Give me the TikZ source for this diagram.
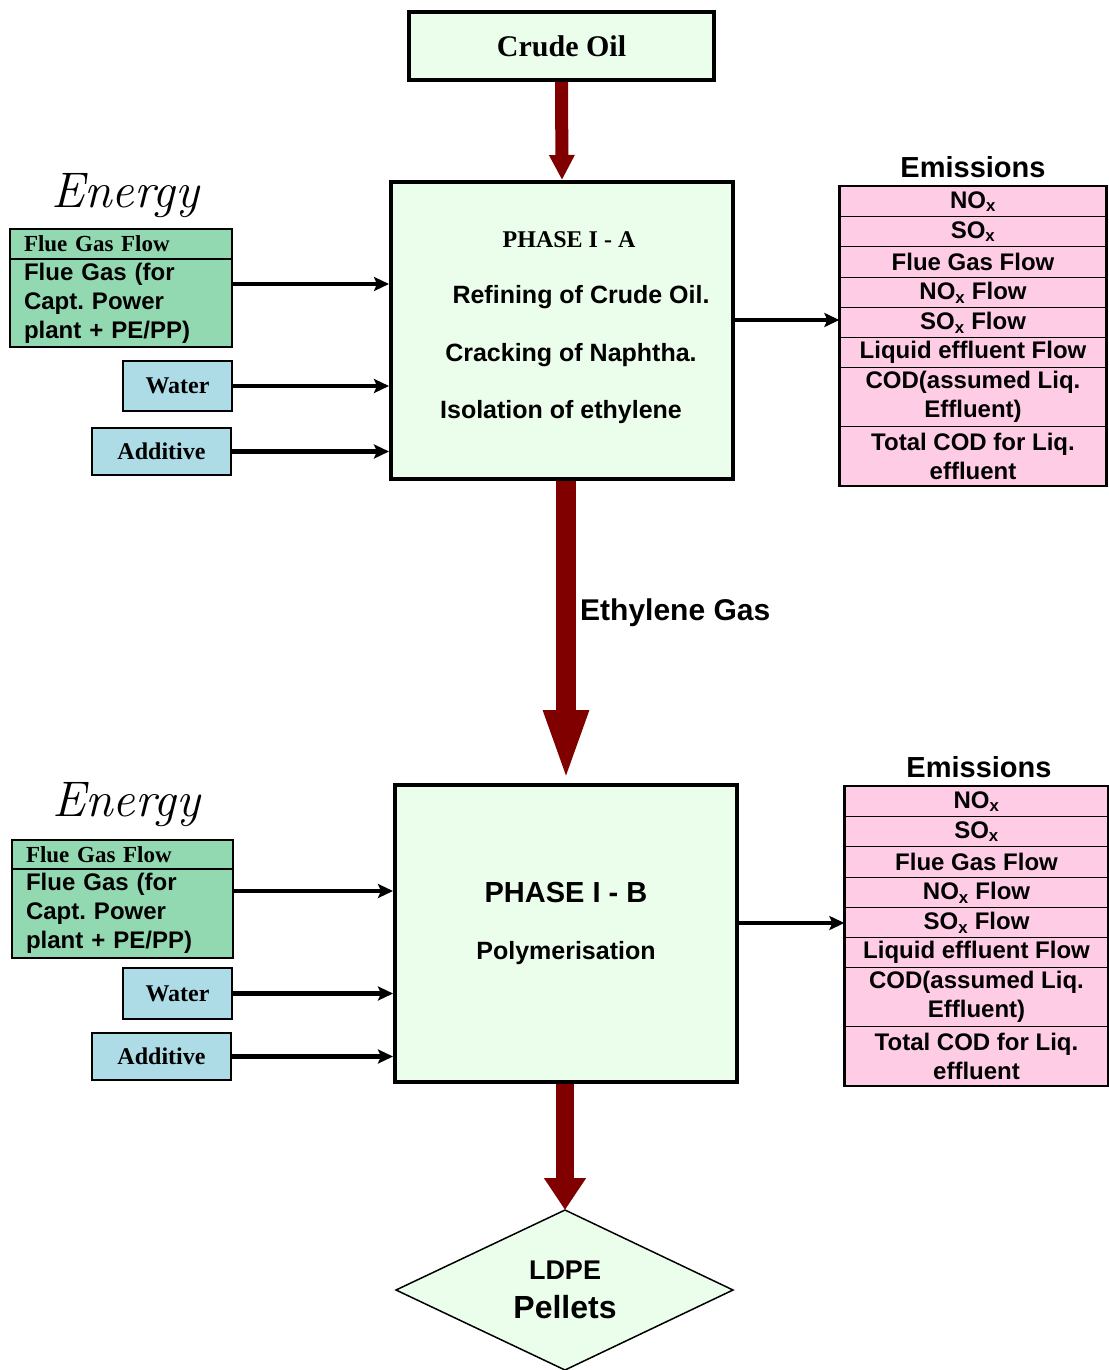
\documentclass[tikz,border=0pt]{standalone}
\usepackage{fontspec}
\newfontfamily\helv{Liberation Sans}
\newfontfamily\tnr{Liberation Serif}
\usetikzlibrary{arrows.meta}
\frenchspacing

\definecolor{boxgreen}{HTML}{EBFDEB}
\definecolor{energygreen}{HTML}{92D9B2}
\definecolor{inputblue}{HTML}{ADDCE6}
\definecolor{emitpink}{HTML}{FFCCE6}
\definecolor{flowred}{HTML}{800000}

\tikzset{
  procbox/.style={draw, line width=4pt, fill=boxgreen, inner sep=0pt},
  sanslbl/.style={font=\helv\bfseries\fontsize{25}{29}\selectfont, inner sep=0pt},
  seriflbl/.style={font=\tnr\bfseries\fontsize{24}{29}\selectfont, inner sep=0pt},
  erow/.style={draw, line width=1.3pt, fill=emitpink, inner sep=0pt, anchor=north,
    align=center, font=\helv\bfseries\fontsize{24}{29}\selectfont},
  enrow/.style={draw, line width=2pt, fill=energygreen, anchor=north, inner xsep=14pt,
    inner ysep=0pt, align=left},
  inbox/.style={draw, line width=2pt, fill=inputblue, inner sep=0pt,
    font=\tnr\bfseries\fontsize{24}{29}\selectfont},
  feed/.style={line width=4.5pt, -{Stealth[length=15pt,width=14pt,inset=3pt]}},
  energylbl/.style={font=\itshape\fontsize{50}{50}\selectfont, inner sep=0pt},
  emhead/.style={font=\helv\bfseries\fontsize{29}{29}\selectfont, inner sep=0pt},
}

\begin{document}
\begin{tikzpicture}[x=1pt, y=-1pt]
\useasboundingbox (0,0) rectangle (1108,1370);

% ---------- main process chain ----------
\node[procbox, minimum width=305pt, minimum height=68pt,
      font=\tnr\bfseries\fontsize{30}{30}\selectfont] (crude) at (561.5,46) {Crude Oil};
\node[procbox, minimum width=342pt, minimum height=297pt] (pa) at (562,330.5) {};
\node[procbox, minimum width=342pt, minimum height=297pt] (pb) at (566,933.5) {};
% LDPE pellets diamond
\coordinate (dtop) at (565,1210);
\coordinate (dright) at (733,1290);
\coordinate (dbot) at (565,1370);
\coordinate (dleft) at (396,1290);
\draw[line width=1.5pt, fill=boxgreen] (dtop) -- (dright) -- (dbot) -- (dleft) -- cycle;
\node[sanslbl, font=\helv\bfseries\fontsize{27}{27}\selectfont] (ldpe) at (565,1270) {LDPE};
\node[sanslbl, font=\helv\bfseries\fontsize{32}{32}\selectfont] (pellets) at (565,1307) {Pellets};

% texts inside phase boxes
\node[seriflbl] (pat) at (569,240) {PHASE I - A};
\node[sanslbl] (pa1) at (581,297) {Refining of Crude Oil.};
\node[sanslbl] (pa2) at (571,355) {Cracking of Naphtha.};
\node[sanslbl] (pa3) at (561,412) {Isolation of ethylene};
\node[sanslbl, font=\helv\bfseries\fontsize{29}{29}\selectfont] (pbt) at (566,893) {PHASE I - B};
\node[sanslbl, font=\helv\bfseries\fontsize{25}{25}\selectfont] (pb1) at (566,953) {Polymerisation};

% heavy flow arrows
\draw[flowred, line width=13pt, -{Triangle[length=25pt,width=24pt]}] (crude.south) -- (pa.north);
\draw[flowred, line width=20pt, -{Triangle[length=73pt,width=40pt]}] (pb.north |- pa.south) -- (pb.north);
\draw[flowred, line width=18pt, -{Triangle[length=32pt,width=40pt]}] (dtop |- pb.south) -- (dtop);
\node[sanslbl, font=\helv\bfseries\fontsize{30}{30}\selectfont, anchor=west] (eth) at (580,613) {Ethylene Gas};

% ---------- inputs, phase I-A ----------
\node[energylbl] (en1) at (125,196) {Energy};
\node[enrow, minimum width=222pt, minimum height=30pt, text width=194pt,
      font=\tnr\bfseries\fontsize{23}{29}\selectfont] (en1a) at (121,228) {Flue Gas Flow};
\node[enrow, minimum width=222pt, minimum height=88pt, text width=194pt,
      font=\helv\bfseries\fontsize{24}{29}\selectfont] (en1b) at (121,258)
      {Flue Gas (for\\Capt. Power\\plant + PE/PP)};
\node[inbox, minimum width=109pt, minimum height=50pt] (w1) at (177.5,386) {Water};
\node[inbox, minimum width=139pt, minimum height=47pt] (ad1) at (161.5,451.5) {Additive};

\draw[feed] (en1b.east |- 0,284) -- (pa.west |- 0,284);
\draw[feed] (w1.east) -- (pa.west |- w1.east);
\draw[feed] (ad1.east) -- (pa.west |- ad1.east);

% ---------- emissions, phase I-A ----------
\node[emhead] (em1) at (973,167) {Emissions};
\node[erow, minimum width=266pt, minimum height=30pt] (e1a) at (973,186) {NO\textsubscript{x}};
\node[erow, minimum width=266pt, minimum height=30pt] (e1b) at (973,216) {SO\textsubscript{x}};
\node[erow, minimum width=266pt, minimum height=31pt] (e1c) at (973,246) {Flue Gas Flow};
\node[erow, minimum width=266pt, minimum height=30pt] (e1d) at (973,277) {NO\textsubscript{x} Flow};
\node[erow, minimum width=266pt, minimum height=30pt] (e1e) at (973,307) {SO\textsubscript{x} Flow};
\node[erow, minimum width=266pt, minimum height=30pt] (e1f) at (973,337) {Liquid effluent Flow};
\node[erow, minimum width=266pt, minimum height=59pt] (e1g) at (973,367) {COD(assumed Liq.\\Effluent)};
\node[erow, minimum width=266pt, minimum height=59pt] (e1h) at (973,426) {Total COD for Liq.\\effluent};
\draw[line width=2pt] (e1a.north west) rectangle (e1h.south east);
\draw[feed] (pa.east |- 0,320) -- (e1e.west |- 0,320);

% ---------- inputs, phase I-B ----------
\node[energylbl] (en2) at (126,805) {Energy};
\node[enrow, minimum width=221pt, minimum height=29pt, text width=193pt,
      font=\tnr\bfseries\fontsize{23}{29}\selectfont] (en2a) at (122.5,839) {Flue Gas Flow};
\node[enrow, minimum width=221pt, minimum height=89pt, text width=193pt,
      font=\helv\bfseries\fontsize{24}{29}\selectfont] (en2b) at (122.5,868)
      {Flue Gas (for\\Capt. Power\\plant + PE/PP)};
\node[inbox, minimum width=109pt, minimum height=51pt] (w2) at (177.5,993.5) {Water};
\node[inbox, minimum width=139pt, minimum height=47pt] (ad2) at (161.5,1056.5) {Additive};

\draw[feed] (en2b.east |- 0,891) -- (pb.west |- 0,891);
\draw[feed] (w2.east) -- (pb.west |- w2.east);
\draw[feed] (ad2.east) -- (pb.west |- ad2.east);

% ---------- emissions, phase I-B ----------
\node[emhead] (em2) at (979,767) {Emissions};
\node[erow, minimum width=263pt, minimum height=30pt] (e2a) at (976.5,786) {NO\textsubscript{x}};
\node[erow, minimum width=263pt, minimum height=30pt] (e2b) at (976.5,816) {SO\textsubscript{x}};
\node[erow, minimum width=263pt, minimum height=31pt] (e2c) at (976.5,846) {Flue Gas Flow};
\node[erow, minimum width=263pt, minimum height=30pt] (e2d) at (976.5,877) {NO\textsubscript{x} Flow};
\node[erow, minimum width=263pt, minimum height=30pt] (e2e) at (976.5,907) {SO\textsubscript{x} Flow};
\node[erow, minimum width=263pt, minimum height=30pt] (e2f) at (976.5,937) {Liquid effluent Flow};
\node[erow, minimum width=263pt, minimum height=59pt] (e2g) at (976.5,967) {COD(assumed Liq.\\Effluent)};
\node[erow, minimum width=263pt, minimum height=59pt] (e2h) at (976.5,1026) {Total COD for Liq.\\effluent};
\draw[line width=2pt] (e2a.north west) rectangle (e2h.south east);
\draw[feed] (pb.east |- 0,923) -- (e2e.west |- 0,923);
\end{tikzpicture}
\end{document}
